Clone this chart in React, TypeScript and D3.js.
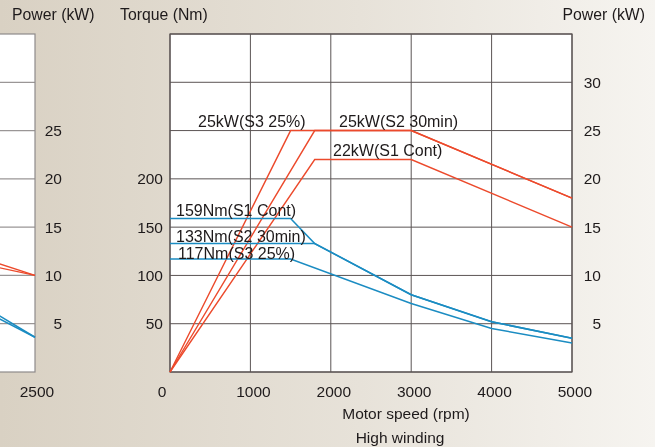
import React from "react";
import * as d3 from "d3";

// speed ticks (rpm) and axis ticks
const rpmTicks = [0, 1000, 2000, 3000, 4000, 5000];
const torqueTicks = [50, 100, 150, 200];
const powerTicks = [5, 10, 15, 20, 25, 30];
const leftPowerTicks = [5, 10, 15, 20, 25];

// torque curves (rpm, Nm)
const torqueS1 = [[0, 159], [1500, 159], [1800, 133], [3000, 80], [4000, 52], [5000, 35]];
const torqueS2 = [[0, 133], [1800, 133], [3000, 80], [4000, 52], [5000, 35]];
const torqueS3 = [[0, 117], [1500, 117], [3000, 71], [4000, 45], [5000, 30]];

// power curves (rpm, kW)
const powerS3 = [[0, 0], [1500, 25], [3000, 25], [5000, 18]];
const powerS2 = [[0, 0], [1800, 25], [3000, 25], [5000, 18]];
const powerS1 = [[0, 0], [1800, 22], [3000, 22], [5000, 15]];

// left (cut off) chart, only its right end is visible
const leftPowerA = [[2000, 12.7], [2500, 10]];
const leftPowerB = [[2000, 11.8], [2500, 10]];
const leftTorqueA = [[2000, 8.6], [2500, 3.6]];
const leftTorqueB = [[2000, 7.9], [2500, 3.6]];

const W = 655;
const H = 447;
const font = "'Liberation Sans', Arial, Helvetica, sans-serif";
const RED = "#ec4a2c";
const BLUE = "#1b8cc2";
const GRID = "#5b5454";

const App = () => {
  const m = { left: 170, right: 572, top: 34, bottom: 372 };
  const x = d3.scaleLinear().domain([0, 5000]).range([m.left, m.right]);
  const yT = d3.scaleLinear().domain([0, 350]).range([m.bottom, m.top]);
  const yP = d3.scaleLinear().domain([0, 35]).range([m.bottom, m.top]);

  const colW = (m.right - m.left) / 5;
  const lx = d3.scaleLinear().domain([0, 2500]).range([35 - 5 * colW, 35]);

  const torqueLine = d3.line<number[]>().x(d => x(d[0])).y(d => yT(d[1]));
  const powerLine = d3.line<number[]>().x(d => x(d[0])).y(d => yP(d[1]));
  const leftLine = d3.line<number[]>().x(d => lx(d[0])).y(d => yP(d[1]));

  const gridRows = d3.range(0, 36, 5);

  const txt = { fontFamily: font, fontSize: 15.5, fill: "#1e1a1b" };
  const lbl = { ...txt, fontSize: 16 };

  return (
    <svg width={W} height={H} style={{ position: "fixed", left: 0, top: 0 }}>
      <defs>
        <linearGradient id="bg" x1="0" y1="0" x2="1" y2="0">
          <stop offset="0%" stopColor="#d9d1c3" />
          <stop offset="55%" stopColor="#e7e2d9" />
          <stop offset="100%" stopColor="#f6f4f0" />
        </linearGradient>
      </defs>
      <rect width={W} height={H} fill="url(#bg)" />

      {/* left chart (partially visible) */}
      <rect x={lx(0)} y={m.top} width={35 - lx(0)} height={m.bottom - m.top} fill="#fff" />
      {gridRows.slice(1, -1).map(p => (
        <line key={p} x1={lx(0)} x2={35} y1={yP(p)} y2={yP(p)} stroke="#9a9696" strokeWidth={1.3} />
      ))}
      <rect x={lx(0)} y={m.top} width={35 - lx(0)} height={m.bottom - m.top} fill="none" stroke="#8e8a8a" strokeWidth={1.2} />
      {[leftPowerA, leftPowerB].map((d, i) => (
        <path key={"lp" + i} d={leftLine(d) || ""} fill="none" stroke={RED} strokeWidth={1.4} />
      ))}
      {[leftTorqueA, leftTorqueB].map((d, i) => (
        <path key={"lt" + i} d={leftLine(d) || ""} fill="none" stroke={BLUE} strokeWidth={1.5} />
      ))}
      {leftPowerTicks.map(p => (
        <text key={p} x={62} y={yP(p)} dy="0.36em" textAnchor="end" {...txt}>{p}</text>
      ))}
      <text x={37} y={397} textAnchor="middle" {...txt}>2500</text>
      <text x={12} y={20} {...lbl} fontSize={15.8}>Power (kW)</text>

      {/* main chart */}
      <rect x={m.left} y={m.top} width={m.right - m.left} height={m.bottom - m.top} fill="#fff" />
      {gridRows.map(p => (
        <line key={"h" + p} x1={m.left} x2={m.right} y1={yP(p)} y2={yP(p)} stroke={GRID} strokeWidth={1} />
      ))}
      {rpmTicks.map(r => (
        <line key={"v" + r} x1={x(r)} x2={x(r)} y1={m.top} y2={m.bottom} stroke={GRID} strokeWidth={1} />
      ))}
      <rect x={m.left} y={m.top} width={m.right - m.left} height={m.bottom - m.top} fill="none" stroke={GRID} strokeWidth={1.2} />

      {[powerS3, powerS2, powerS1].map((d, i) => (
        <path key={"p" + i} d={powerLine(d) || ""} fill="none" stroke={RED} strokeWidth={1.4} />
      ))}
      {[torqueS1, torqueS2, torqueS3].map((d, i) => (
        <path key={"t" + i} d={torqueLine(d) || ""} fill="none" stroke={BLUE} strokeWidth={1.5} />
      ))}

      {/* curve labels */}
      <text x={198} y={127} {...lbl}>25kW(S3 25%)</text>
      <text x={339} y={127} {...lbl}>25kW(S2 30min)</text>
      <text x={333} y={156} {...lbl}>22kW(S1 Cont)</text>
      <text x={176} y={216} {...lbl}>159Nm(S1 Cont)</text>
      <text x={176} y={242} {...lbl}>133Nm(S2 30min)</text>
      <text x={178} y={259} {...lbl}>117Nm(S3 25%)</text>

      {/* axes */}
      {torqueTicks.map(t => (
        <text key={t} x={163} y={yT(t)} dy="0.36em" textAnchor="end" {...txt}>{t}</text>
      ))}
      {powerTicks.map(p => (
        <text key={p} x={601} y={yP(p)} dy="0.36em" textAnchor="end" {...txt}>{p}</text>
      ))}
      {rpmTicks.map(r => (
        <text key={r} x={r === 0 ? x(r) - 8 : x(r) + 3} y={397} textAnchor="middle" {...txt}>{r}</text>
      ))}
      <text x={120} y={20} {...lbl} fontSize={15.8}>Torque (Nm)</text>
      <text x={645} y={20} textAnchor="end" {...lbl} fontSize={15.8}>Power (kW)</text>
      <text x={406} y={419} textAnchor="middle" {...txt}>Motor speed (rpm)</text>
      <text x={400} y={443} textAnchor="middle" {...txt}>High winding</text>
    </svg>
  );
};

export default App;
